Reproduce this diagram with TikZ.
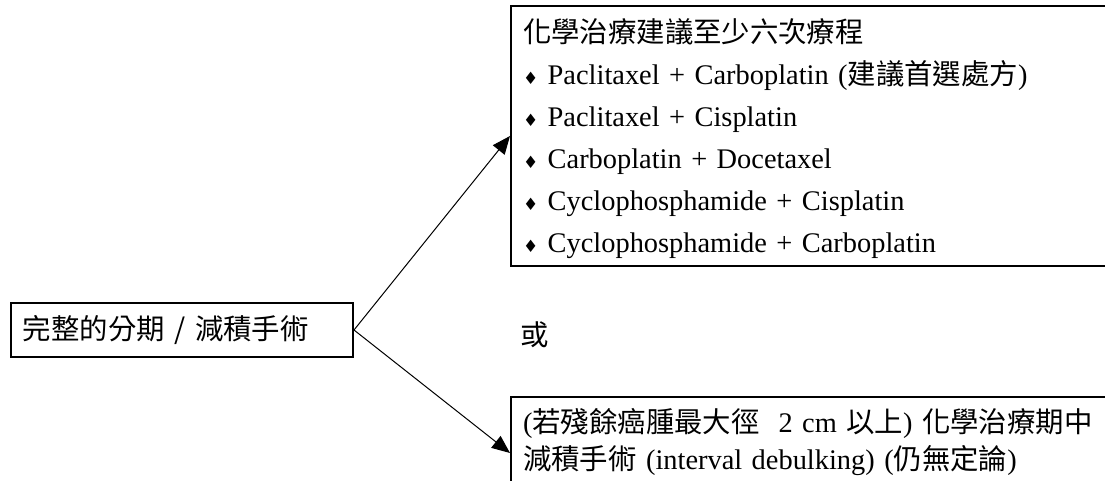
\documentclass[tikz,border=0pt]{standalone}
\usepackage{fontspec}
\setmainfont{Liberation Serif}
\newfontfamily\cjk{Noto Sans CJK TC}
\newfontfamily\symfont{DejaVu Sans}
\usetikzlibrary{arrows.meta}
\newcommand{\zh}[1]{{\cjk\fontsize{14.2}{14.2}\selectfont #1}}
\newcommand{\dia}{{\symfont\fontsize{8.5}{8.5}\selectfont ♦}\ }

\begin{document}
\begin{tikzpicture}[x=0.5pt, y=-0.5pt, every node/.style={font=\fontsize{14.2}{21}\selectfont},
  box/.style={draw, line width=1pt, inner xsep=6pt, inner ysep=6pt, align=left},
  link/.style={-{Triangle[length=9pt,width=7.5pt]}, line width=0.5pt}]
\useasboundingbox (0,0) rectangle (1105,481);
\clip (0,0) rectangle (1105,481);
\node[box, anchor=west, text width=159pt, minimum height=22pt] (surgery) at (10,330) {\zh{完整的分期 / 減積手術}};
\node[box, anchor=north west, text width=300pt, text height=12.5pt, text depth=105.5pt] (regimen) at (510,5)
  {\zh{化學治療建議至少六次療程}\\
   \dia Paclitaxel + Carboplatin (\zh{建議首選處方})\\
   \dia Paclitaxel + Cisplatin\\
   \dia Carboplatin + Docetaxel\\
   \dia Cyclophosphamide + Cisplatin\\
   \dia Cyclophosphamide + Carboplatin};
\node (or) at (535,335) {\zh{或}};
\node[box, anchor=north west, text width=300pt, text height=11.5pt, text depth=32.5pt,
  font=\fontsize{14.2}{18.5}\selectfont] (interval) at (510,396)
  {(\zh{若殘餘癌腫最大徑}\ \ 2 cm \zh{以上}) \zh{化學治療期中}\\
   \zh{減積手術} (interval debulking) (\zh{仍無定論})};
\draw[link] (surgery.east) -- (regimen.west);
\draw[link] (surgery.east) -- (interval.west);
\end{tikzpicture}
\end{document}
